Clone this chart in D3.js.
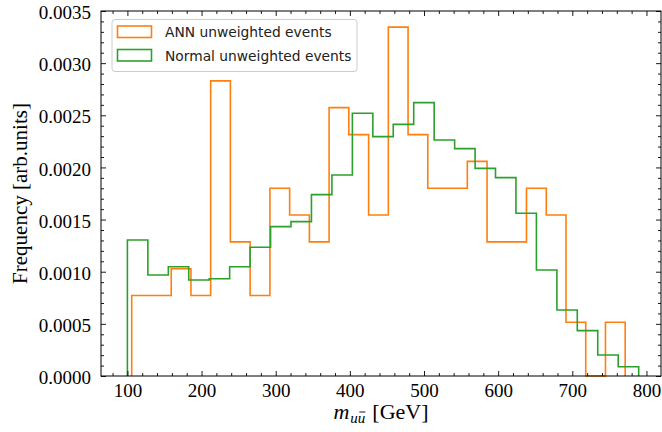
<!DOCTYPE html>
<html>
<head>
<meta charset="utf-8">
<script src="https://cdn.jsdelivr.net/npm/d3@7"></script>
<style>
  html, body { margin: 0; padding: 0; background: #fff; }
  svg { display: block; }
</style>
</head>
<body>
<svg id="chart" width="662" height="432"></svg>
<script>
// ---- data ----
const annEdges = [105.8, 132.4, 159.1, 185.7, 212.3, 238.9, 265.5, 292.2, 318.8, 345.4, 372.0, 398.6, 425.3,
                  451.9, 478.5, 505.1, 531.7, 558.4, 585.0, 611.6, 638.2, 664.9, 691.5, 718.1, 744.7, 771.3];
const annValues = [0.000772, 0.000772, 0.001029, 0.000772, 0.002830, 0.001286, 0.000772, 0.001801, 0.001544,
                   0.001286, 0.002573, 0.002315, 0.001544, 0.003345, 0.002315, 0.001801, 0.001801, 0.002058,
                   0.001286, 0.001286, 0.001801, 0.001544, 0.000515, 0.000000, 0.000515];
const normEdges = [100.0, 127.6, 155.2, 182.7, 210.3, 237.9, 265.5, 293.1, 320.6, 348.2, 375.8, 403.4, 431.0,
                   458.5, 486.1, 513.7, 541.3, 568.9, 596.4, 624.0, 651.6, 679.2, 706.7, 734.3, 761.9, 789.5];
const normValues = [0.001304, 0.000968, 0.001048, 0.000921, 0.000933, 0.001048, 0.001234, 0.001432, 0.001480,
                    0.001739, 0.001927, 0.002519, 0.002295, 0.002413, 0.002621, 0.002263, 0.002180, 0.001991,
                    0.001902, 0.001560, 0.001016, 0.000633, 0.000435, 0.000201, 0.000089];
const xTicks = [100, 200, 300, 400, 500, 600, 700, 800];
const yTicks = [0.0000, 0.0005, 0.0010, 0.0015, 0.0020, 0.0025, 0.0030, 0.0035];
const seriesNames = ["ANN unweighted events", "Normal unweighted events"];
const seriesColors = ["#ff7f0e", "#2ca02c"];

// ---- layout ----
const SERIF = "'Liberation Serif', 'Times New Roman', serif";
const W = 662, H = 432;
const m = { left: 101, right: 1, top: 11, bottom: 56 };
const pw = W - m.left - m.right, ph = H - m.top - m.bottom;
const svg = d3.select("#chart");
const g = svg.append("g").attr("transform", `translate(${m.left},${m.top})`);

const x = d3.scaleLinear().domain([64.4, 819.6]).range([0, pw]);
const y = d3.scaleLinear().domain([0, 0.0035]).range([ph, 0]);

// ---- histograms (step outlines) ----
function stepPoints(edges, vals) {
  const pts = [[edges[0], 0]];
  vals.forEach((v, i) => { pts.push([edges[i], v]); pts.push([edges[i + 1], v]); });
  pts.push([edges[edges.length - 1], 0]);
  return pts;
}
const line = d3.line().x(d => x(d[0])).y(d => y(d[1]));
[[annEdges, annValues], [normEdges, normValues]].forEach(([e, v], i) => {
  g.append("path")
    .attr("d", line(stepPoints(e, v)))
    .attr("fill", "none")
    .attr("stroke", seriesColors[i])
    .attr("stroke-width", 1.6)
    .attr("stroke-linejoin", "miter");
});

// ---- axes (ticks inward, all four sides) ----
const xMinor = d3.range(80, 820, 20).filter(v => v % 100 !== 0 && v >= 64.4 && v <= 819.6);
const yMinor = d3.range(0, 36).map(k => k * 0.0001).filter((v, k) => k % 5 !== 0);

function drawTicks(sel, axisGen) {
  sel.call(axisGen);
  sel.select(".domain").remove();
  sel.attr("font-family", SERIF).attr("font-size", 19);
}
const majLen = 5, minLen = 3;

const xb = g.append("g").attr("transform", `translate(0,${ph})`);
drawTicks(xb, d3.axisBottom(x).tickValues(xTicks).tickSizeInner(-majLen).tickSizeOuter(0).tickPadding(7).tickFormat(d3.format("d")));
drawTicks(g.append("g").attr("transform", `translate(0,${ph})`), d3.axisBottom(x).tickValues(xMinor).tickSizeInner(-minLen).tickSizeOuter(0).tickFormat(""));
drawTicks(g.append("g"), d3.axisTop(x).tickValues(xTicks).tickSizeInner(-majLen).tickSizeOuter(0).tickFormat(""));
drawTicks(g.append("g"), d3.axisTop(x).tickValues(xMinor).tickSizeInner(-minLen).tickSizeOuter(0).tickFormat(""));
const yl = g.append("g");
drawTicks(yl, d3.axisLeft(y).tickValues(yTicks).tickSizeInner(-majLen).tickSizeOuter(0).tickPadding(10).tickFormat(d3.format(".4f")));
drawTicks(g.append("g"), d3.axisLeft(y).tickValues(yMinor).tickSizeInner(-minLen).tickSizeOuter(0).tickFormat(""));
drawTicks(g.append("g").attr("transform", `translate(${pw},0)`), d3.axisRight(y).tickValues(yTicks).tickSizeInner(-majLen).tickSizeOuter(0).tickFormat(""));
drawTicks(g.append("g").attr("transform", `translate(${pw},0)`), d3.axisRight(y).tickValues(yMinor).tickSizeInner(-minLen).tickSizeOuter(0).tickFormat(""));

g.selectAll(".tick line").attr("stroke", "#000").attr("stroke-width", 0.9);
g.selectAll(".tick text")
  .style("font-family", SERIF).style("font-size", "19px").attr("fill", "#000");
yl.selectAll(".tick text").attr("dy", "0.4em");
xb.selectAll(".tick text").attr("dy", "0.72em");

// frame
g.append("rect").attr("x", 0).attr("y", 0).attr("width", pw).attr("height", ph)
  .attr("fill", "none").attr("stroke", "#000").attr("stroke-width", 1);

// ---- x label: m_{u ubar} [GeV] as separate pieces ----
const xlab = svg.append("g");
const base = 419;
const mT = xlab.append("text").attr("y", base).attr("font-style", "italic")
  .style("font-family", SERIF).style("font-size", "22px").text("m");
const sT = xlab.append("text").attr("y", base + 4).attr("font-style", "italic")
  .style("font-family", SERIF).style("font-size", "15px").text("uu");
const gT = xlab.append("text").attr("y", base)
  .style("font-family", SERIF).style("font-size", "22px").text("[GeV]");
const wM = mT.node().getComputedTextLength();
const wS = sT.node().getComputedTextLength();
const wG = gT.node().getComputedTextLength();
const gap = 7;
const total = wM + 1 + wS + gap + wG;
const x0 = m.left + pw / 2 - total / 2;
mT.attr("x", x0);
sT.attr("x", x0 + wM + 1);
gT.attr("x", x0 + wM + 1 + wS + gap);
// overline on second u
const half = wS / 2;
xlab.append("line")
  .attr("x1", x0 + wM + 1 + half + 1.5).attr("x2", x0 + wM + 1 + wS)
  .attr("y1", base - 7).attr("y2", base - 7)
  .attr("stroke", "#000").attr("stroke-width", 0.9);

svg.append("text")
  .attr("transform", `translate(27,${m.top + ph / 2}) rotate(-90)`)
  .attr("text-anchor", "middle")
  .style("font-family", SERIF).style("font-size", "21px").attr("fill", "#000")
  .text("Frequency [arb.units]");

// ---- legend ----
const lg = svg.append("g").attr("transform", "translate(112,19.5)");
lg.append("rect").attr("x", 0).attr("y", 0).attr("width", 245).attr("height", 52)
  .attr("rx", 3).attr("fill", "#fff").attr("fill-opacity", 0.8)
  .attr("stroke", "#cccccc").attr("stroke-width", 1);
seriesNames.forEach((name, i) => {
  const yy = 6.5 + i * 23.5;
  lg.append("rect").attr("x", 5.5).attr("y", yy).attr("width", 34).attr("height", 11.5)
    .attr("fill", "none").attr("stroke", seriesColors[i]).attr("stroke-width", 1.6);
  lg.append("text").attr("x", 53).attr("y", yy + 11)
    .style("font-family", "'DejaVu Sans', sans-serif").style("font-size", "13.8px").attr("fill", "#222")
    .text(name);
});
</script>
</body>
</html>
